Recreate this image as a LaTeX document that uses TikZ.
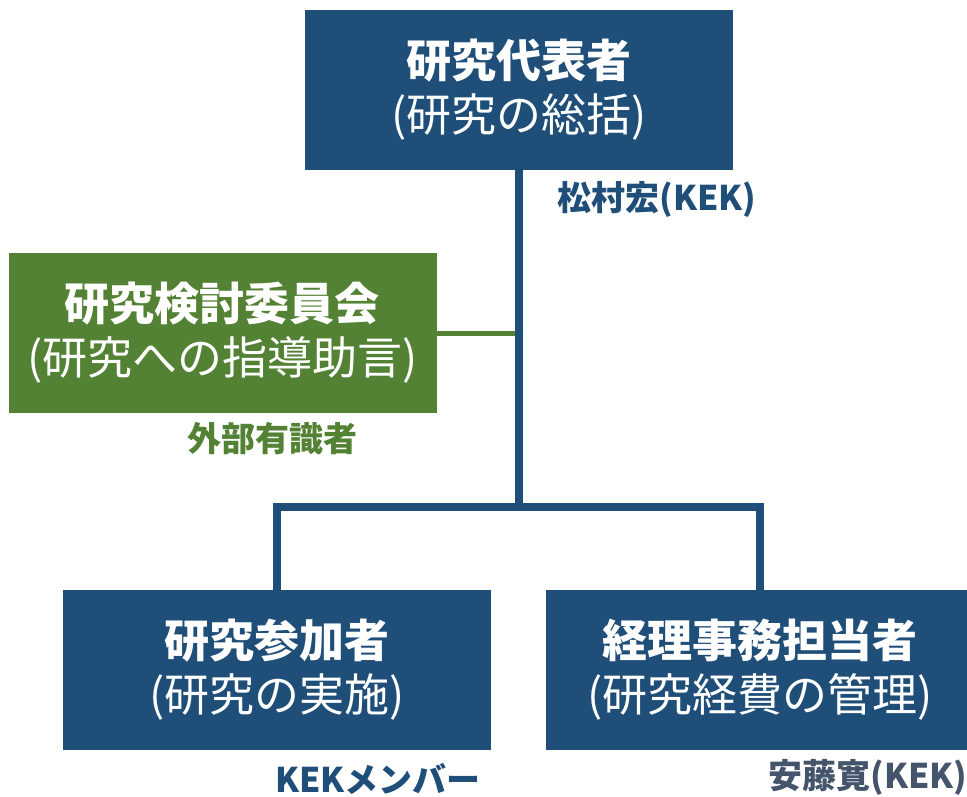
\documentclass[tikz,border=0pt]{standalone}
\usepackage{fontspec}
\setmainfont{Noto Sans CJK JP}
\definecolor{boxblue}{RGB}{31,78,121}
\definecolor{boxgreen}{RGB}{84,130,53}
\definecolor{graylabel}{RGB}{68,84,106}
\tikzset{
  orgbox/.style={fill=#1, text=white, minimum width=428pt, minimum height=160pt, inner sep=0pt, align=center,
    font=\fontsize{45}{54}\selectfont},
  namelabel/.style={text=#1, font=\bfseries\fontsize{34}{40}\selectfont, inner sep=0pt},
  bluelink/.style={draw=boxblue, line width=8pt, line join=miter, line cap=rect},
  greenlink/.style={draw=boxgreen, line width=5pt}
}
\begin{document}
\begin{tikzpicture}[x=1pt,y=-1pt]
\useasboundingbox (0,0) rectangle (967,796);
\node[orgbox=boxblue] (top) at (519,90) {{\bfseries 研究代表者}\\(研究の総括)};
\node[orgbox=boxgreen] (green) at (222.5,333) {{\bfseries 研究検討委員会}\\(研究への指導助言)};
\node[orgbox=boxblue] (bl) at (277,670) {{\bfseries 研究参加者}\\(研究の実施)};
\node[orgbox=boxblue] (br) at (760,670) {{\bfseries 経理事務担当者}\\(研究経費の管理)};
\coordinate (j) at (519,507);
\draw[greenlink] (green.east) -- (green.east -| top.south);
\draw[bluelink] (top.south) -- (j);
\draw[bluelink] (bl.north) |- (j) -| (br.north);
\node[namelabel=boxblue] (l1) at (657,199) {松村宏(KEK)};
\node[namelabel=boxgreen] (l2) at (272,439) {外部有識者};
\node[namelabel=boxblue] (l3) at (378,779) {KEKメンバー};
\node[namelabel=graylabel] (l4) at (868,777) {安藤寛(KEK)};
\end{tikzpicture}
\end{document}
